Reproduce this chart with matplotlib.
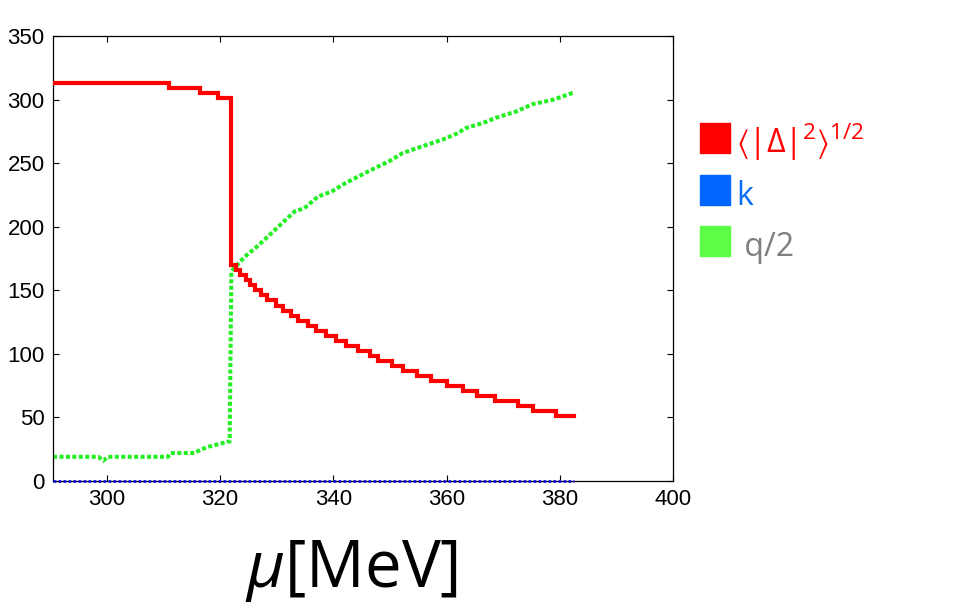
import matplotlib
matplotlib.use("Agg")
import matplotlib.pyplot as plt
from matplotlib.patches import Rectangle

plt.rcParams['font.family'] = ['Liberation Sans', 'DejaVu Sans']
plt.rcParams['mathtext.fontset'] = 'custom'
plt.rcParams['mathtext.rm'] = 'Open Sans'
plt.rcParams['mathtext.it'] = 'Open Sans:italic'
plt.rcParams['mathtext.bf'] = 'Open Sans:bold'
plt.rcParams['mathtext.fallback'] = 'stixsans'

# <|Delta|^2>^(1/2) : level starts (steps-post)
red_mu = [290.5, 310.9, 316.4, 319.6, 321.9, 322.8, 323.6, 324.5, 325.3, 326.1,
          327.2, 328.3, 329.8, 331.2, 332.5, 333.8, 335.5, 337.0, 338.8, 340.5,
          342.3, 344.3, 346.4, 347.9, 350.3, 352.3, 354.7, 357.3, 360.0, 362.9,
          365.3, 368.5, 372.6, 375.2, 379.4, 382.6]
red_val = [313, 309, 305, 301, 170, 166, 162, 158, 154, 150,
           146, 142, 138, 134, 130, 126, 122, 118, 114, 110,
           106.5, 102.5, 98.6, 94.6, 90.7, 86.7, 82.8, 78.9, 75, 71,
           67, 63, 59, 55, 51.4, 51.4]

# q/2
green_mu = [290.5, 298.5, 299.4, 300.2, 310.8, 311.3, 315.5, 316.5, 318.0, 320.3,
            321.4, 321.7, 322.0, 324.4, 326.7, 329.1, 331.4, 333.2, 334.9, 337.3,
            339.7, 342.2, 346.4, 350.0, 352.3, 355.9, 359.4, 361.7, 363.5, 366.4,
            368.8, 372.3, 375.2, 378.8, 382.6]
green_val = [19, 19, 16, 19, 19, 22, 22, 24.5, 27, 29.6,
             31, 31, 165, 176.5, 185, 195, 204.6, 212, 214.6, 223.7,
             227.7, 234.4, 244, 251.8, 258, 263.5, 268.7, 273, 277.7, 281.5,
             285.8, 290.6, 296.4, 299.8, 305.8]

# k
k_mu = [290.5, 382.6]
k_val = [0, 0]

xticks = [300, 320, 340, 360, 380, 400]
yticks = [0, 50, 100, 150, 200, 250, 300, 350]

fig = plt.figure(figsize=(9.55, 6.1), dpi=100)
ax = fig.add_axes([0.0555, 0.2115, 0.6492, 0.7295])

ax.plot(red_mu, red_val, color='#ff0000', lw=3.0, drawstyle='steps-post',
        solid_joinstyle='miter', zorder=3)
ax.plot(green_mu, green_val, color='#22f022', lw=2.9, dashes=(1, 0.6),
        dash_capstyle='butt', zorder=2)
ax.plot(k_mu, k_val, color='#1010e0', lw=2.0, dashes=(1, 0.8),
        dash_capstyle='butt', clip_on=False, zorder=4)

ax.set_xlim(290.5, 400)
ax.set_ylim(0, 350)
ax.set_xticks(xticks)
ax.set_yticks(yticks)
ax.tick_params(direction='in', length=4.5, width=0.8, top=True, right=True,
               labelsize=16, pad=6)
for s in ax.spines.values():
    s.set_linewidth(0.9)

# legend drawn as figure patches
leg_colors = ['#ff0000', '#0066ff', '#5cff45']
leg_labels = [r'$⟨|\Delta|^2⟩^{1/2}$', 'k', ' q/2']
leg_text_colors = ['#ff0000', '#0a6cf0', '#7f7f7f']
leg_y = [123, 175, 226]
for c, lab, tc, y in zip(leg_colors, leg_labels, leg_text_colors, leg_y):
    fig.patches.append(Rectangle((700 / 955, 1 - (y + 30) / 610), 30 / 955, 30 / 610,
                                 transform=fig.transFigure, color=c, figure=fig))
    fig.text(736 / 955, 1 - (y + 30) / 610, lab, color=tc, fontsize=23,
             family=['Open Sans', 'DejaVu Sans'], va='baseline', ha='left')

fig.text(245 / 955, 1 - 587 / 610, r'$\mu$[MeV]', fontsize=47, family='Open Sans',
         va='baseline', ha='left')

fig.savefig('out.png', dpi=100)
